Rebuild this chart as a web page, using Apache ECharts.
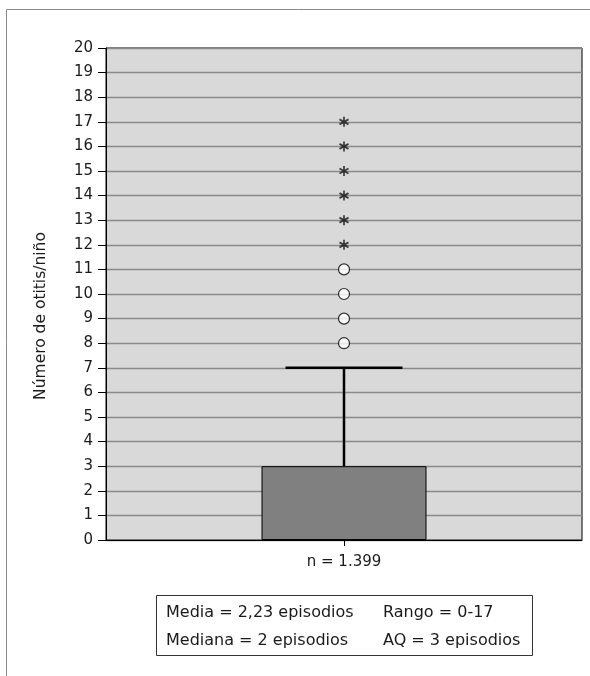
<!DOCTYPE html>
<html>
<head>
<meta charset="utf-8">
<script src="https://cdn.jsdelivr.net/npm/echarts@6/dist/echarts.min.js"></script>
<style>
html,body{margin:0;padding:0;background:#fff;}
#c{width:590px;height:676px;}
</style>
</head>
<body>
<div id="c"></div>
<script>
var categories = ['n = 1.399'];
var boxTop = [3];            // upper edge of the box (Q3), box starts at 0
var whiskerHigh = [7];       // upper whisker end
var outliersCircle = [8, 9, 10, 11];
var outliersStar = [12, 13, 14, 15, 16, 17];
var yTicks = {min: 0, max: 20, interval: 1};
var axisName = 'Número de otitis/niño';
var statsLines = [
  ['Media = 2,23 episodios', 'Rango = 0-17'],
  ['Mediana = 2 episodios', 'AQ = 3 episodios']
];

var FONT = '"DejaVu Sans", "Liberation Sans", Arial, sans-serif';
var chart = echarts.init(document.getElementById('c'));

var starPath = 'path://M5,0L5,10M0.7,2.5L9.3,7.5M0.7,7.5L9.3,2.5';

var graphics = [
  {type: 'line', shape: {x1: 6.5, y1: 9.5, x2: 590, y2: 9.5}, style: {stroke: '#8a8a8a', lineWidth: 1}, silent: true},
  {type: 'line', shape: {x1: 6.5, y1: 9.5, x2: 6.5, y2: 676}, style: {stroke: '#8a8a8a', lineWidth: 1}, silent: true},
  {type: 'rect', shape: {x: 156.5, y: 595.5, width: 376, height: 60}, style: {fill: '#fff', stroke: '#333', lineWidth: 1}, silent: true}
];
var colX = [166, 383];
var rowY = [612.5, 640.5];
statsLines.forEach(function (row, r) {
  row.forEach(function (txt, c) {
    graphics.push({
      type: 'text', x: colX[c], y: rowY[r],
      style: {text: txt, font: '16px ' + FONT, fill: '#1a1a1a', textVerticalAlign: 'middle', textAlign: 'left'},
      silent: true
    });
  });
});

chart.setOption({
  animation: false,
  grid: {
    left: 106, right: 8, top: 48, bottom: 136,
    show: true, backgroundColor: '#d9d9d9', borderColor: '#000', borderWidth: 1
  },
  xAxis: {
    type: 'category',
    data: categories,
    axisLine: {lineStyle: {color: '#000', width: 1}},
    axisTick: {show: true, alignWithLabel: true, length: 6, lineStyle: {color: '#000'}},
    axisLabel: {color: '#1a1a1a', fontSize: 15, fontFamily: FONT, margin: 15},
    splitLine: {show: false}
  },
  yAxis: {
    type: 'value',
    min: yTicks.min, max: yTicks.max, interval: yTicks.interval,
    name: axisName, nameLocation: 'middle', nameGap: 57,
    nameTextStyle: {color: '#1a1a1a', fontSize: 15.5, fontFamily: FONT, padding: [0, 44, 0, 0]},
    axisLine: {show: true, lineStyle: {color: '#000', width: 1}},
    axisTick: {show: true, length: 8, lineStyle: {color: '#000'}},
    axisLabel: {color: '#1a1a1a', fontSize: 15, fontFamily: FONT, margin: 13},
    splitLine: {show: true, lineStyle: {color: '#8a8a8a', width: 1.3}}
  },
  series: [
    {
      type: 'bar',
      data: boxTop,
      barWidth: 165,
      itemStyle: {color: '#808080', borderColor: '#000', borderWidth: 1},
      z: 2
    },
    {
      type: 'custom',
      data: categories.map(function (c, i) { return [i, boxTop[i], whiskerHigh[i]]; }),
      renderItem: function (params, api) {
        var lo = api.coord([api.value(0), api.value(1)]);
        var hi = api.coord([api.value(0), api.value(2)]);
        var half = 58.5;
        return {
          type: 'group',
          children: [
            {type: 'line', shape: {x1: lo[0], y1: lo[1], x2: hi[0], y2: hi[1]}, style: {stroke: '#000', lineWidth: 2.5}},
            {type: 'line', shape: {x1: hi[0] - half, y1: hi[1], x2: hi[0] + half, y2: hi[1]}, style: {stroke: '#000', lineWidth: 2.5}}
          ]
        };
      },
      z: 3
    },
    {
      type: 'scatter',
      data: outliersCircle.map(function (v) { return [0, v]; }),
      symbol: 'circle', symbolSize: 11,
      itemStyle: {color: '#fff', borderColor: '#000', borderWidth: 1.2},
      z: 4
    },
    {
      type: 'scatter',
      data: outliersStar.map(function (v) { return [0, v]; }),
      symbol: starPath, symbolSize: [9, 10],
      itemStyle: {color: 'rgba(0,0,0,0)', borderColor: '#111', borderWidth: 1.8},
      z: 4
    }
  ],
  graphic: graphics
});
</script>
</body>
</html>
